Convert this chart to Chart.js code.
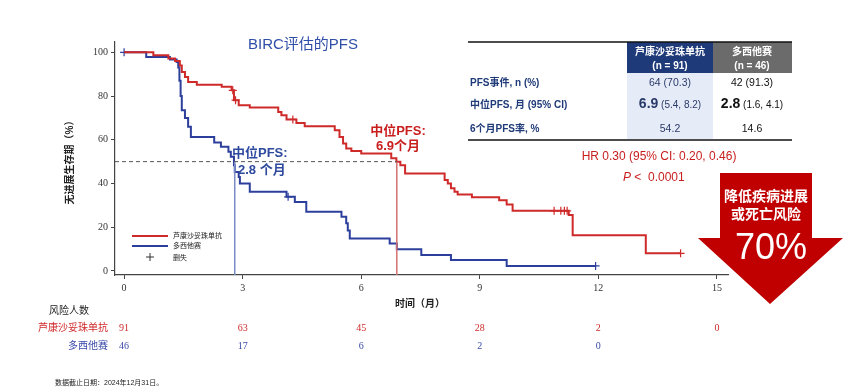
<!DOCTYPE html>
<html lang="zh">
<head>
<meta charset="UTF-8">
<title>BIRC评估的PFS</title>
<script src="https://cdn.jsdelivr.net/npm/chart.js"></script>
<style>
  body { margin: 0; background: #fff; }
  #wrap { position: relative; width: 864px; height: 387px; }
</style>
</head>
<body>
<div id="wrap"><canvas id="km" width="864" height="387"></canvas></div>
<script>
// ---- data ----
const xTicks = [0, 3, 6, 9, 12, 15];
const yTicks = [0, 20, 40, 60, 80, 100];

// 芦康沙妥珠单抗 (red)
const sacTime = [0, 0.74, 1.12, 1.29, 1.41, 1.46, 1.54, 1.62, 1.84, 2.47, 2.72, 2.78, 2.90, 3.18, 3.90, 3.98,
  4.11, 4.36, 4.57, 5.33, 5.45, 5.54, 5.62, 5.75, 6.00, 6.76, 6.89, 6.99, 7.11, 8.11, 8.19, 8.27, 8.36, 8.44,
  8.80, 9.49, 9.68, 9.83, 11.25, 11.35, 13.20, 14.08];
const sacSurv = [100, 98.6, 97.1, 96.0, 94.0, 91.0, 88.7, 86.4, 85.2, 84.2, 82.6, 78.1, 75.8, 74.7, 72.7, 71.2,
  69.3, 67.7, 66.2, 64.4, 61.3, 58.3, 56.0, 54.9, 53.7, 51.5, 49.9, 48.4, 44.6, 41.6, 40.0, 37.8, 36.2, 35.0,
  33.7, 32.4, 30.4, 27.5, 25.6, 16.4, 8.1, 8.1];
const sacCensorTime = [2.75, 2.82, 4.27, 10.88, 11.05, 11.14, 11.21, 14.08];
const sacCensorSurv = [82.6, 78.1, 69.3, 27.5, 27.5, 27.5, 27.5, 8.1];

// 多西他赛 (blue)
const docTime = [0, 0.56, 1.16, 1.33, 1.37, 1.40, 1.43, 1.46, 1.54, 1.62, 1.69, 2.28, 2.45, 2.64, 2.70, 2.78,
  2.80, 2.90, 2.93, 3.18, 4.11, 4.32, 4.61, 5.50, 5.62, 5.66, 5.71, 6.72, 6.90, 7.52, 8.27, 9.68, 11.93];
const docSurv = [100, 97.8, 96.7, 95.6, 93.0, 87.0, 80.0, 73.5, 70.0, 66.0, 61.3, 58.8, 56.8, 54.5, 52.2, 48.4,
  45.3, 43.0, 40.0, 36.2, 33.9, 31.6, 27.1, 24.8, 21.8, 18.5, 14.9, 12.6, 9.9, 7.3, 5.0, 2.3, 2.3];
const docCensorTime = [0, 4.15, 11.93];
const docCensorSurv = [100, 33.9, 2.3];

const medianSac = 6.9;
const medianDoc = 2.8;

const riskSac = [91, 63, 45, 28, 2, 0];
const riskDoc = [46, 17, 6, 2, 0];

const tableLabels = ['PFS事件, n (%)', '中位PFS, 月 (95% CI)', '6个月PFS率, %'];
const tableSac = [['64 (70.3)'], ['6.9', ' (5.4, 8.2)'], ['54.2']];
const tableDoc = [['42 (91.3)'], ['2.8', ' (1.6, 4.1)'], ['14.6']];

const RED = '#cf2a2a';
const BLUE = '#2d3f9c';
const NAVY = '#1f3a78';
const CJK = "'Liberation Sans', 'Noto Sans CJK SC', sans-serif";

const toPts = (xs, ys) => xs.map((x, i) => ({ x: x, y: ys[i] }));

// ---- text, table and arrow drawn over the chart ----
function txt(ctx, s, x, y, font, color, align) {
  ctx.font = font;
  ctx.fillStyle = color;
  ctx.textAlign = align || 'left';
  ctx.textBaseline = 'middle';
  ctx.fillText(s, x, y);
}

function mixed(ctx, parts, cx, y, color) {
  const fonts = ['bold 14px ' + CJK, '10px ' + CJK];
  let w = 0;
  parts.forEach((p, i) => { ctx.font = fonts[i]; w += ctx.measureText(p).width; });
  let x = cx - w / 2;
  parts.forEach((p, i) => {
    ctx.font = fonts[i];
    ctx.fillStyle = color;
    ctx.textAlign = 'left';
    ctx.textBaseline = 'middle';
    ctx.fillText(p, x, y + (i === 0 ? -1 : 0));
    x += ctx.measureText(p).width;
  });
}

const overlay = {
  id: 'overlay',
  afterDraw(chart) {
    const ctx = chart.ctx;
    const xs = chart.scales.x;
    ctx.save();

    // title
    txt(ctx, 'BIRC评估的PFS', 303, 45, '15px ' + CJK, '#2f4ea8', 'center');

    // axis titles
    ctx.save();
    ctx.translate(70, 160);
    ctx.rotate(-Math.PI / 2);
    txt(ctx, '无进展生存期（%）', 0, 0, 'bold 10px ' + CJK, '#222', 'center');
    ctx.restore();
    txt(ctx, '时间（月）', 420, 304, 'bold 10px ' + CJK, '#222', 'center');

    // median labels
    txt(ctx, '中位PFS:', 232, 153, 'bold 13px ' + CJK, '#2e4a9e');
    txt(ctx, '2.8 个月', 238, 170, 'bold 13px ' + CJK, '#2e4a9e');
    txt(ctx, '中位PFS:', 398, 131, 'bold 13px ' + CJK, '#c81e1e', 'center');
    txt(ctx, '6.9个月', 398, 146, 'bold 13px ' + CJK, '#c81e1e', 'center');

    // legend in plot
    ctx.lineWidth = 2;
    ctx.strokeStyle = RED;
    ctx.beginPath(); ctx.moveTo(132, 236); ctx.lineTo(168, 236); ctx.stroke();
    ctx.strokeStyle = BLUE;
    ctx.beginPath(); ctx.moveTo(132, 246); ctx.lineTo(168, 246); ctx.stroke();
    ctx.lineWidth = 1;
    ctx.strokeStyle = '#333';
    ctx.beginPath(); ctx.moveTo(146, 257); ctx.lineTo(154, 257); ctx.moveTo(150, 253); ctx.lineTo(150, 261); ctx.stroke();
    txt(ctx, '芦康沙妥珠单抗', 173, 236, '7px ' + CJK, '#222');
    txt(ctx, '多西他赛', 173, 246, '7px ' + CJK, '#222');
    txt(ctx, '删失', 173, 258, '7px ' + CJK, '#222');

    // table
    ctx.fillStyle = NAVY; ctx.fillRect(627, 42, 86, 31);
    ctx.fillStyle = '#6b6b6b'; ctx.fillRect(713, 42, 79, 31);
    ctx.fillStyle = '#e6ecf7'; ctx.fillRect(627, 73, 86, 66);
    ctx.strokeStyle = '#111';
    ctx.lineWidth = 1.5;
    ctx.beginPath(); ctx.moveTo(468, 42); ctx.lineTo(792, 42); ctx.stroke();
    ctx.beginPath(); ctx.moveTo(468, 140); ctx.lineTo(792, 140); ctx.stroke();
    txt(ctx, '芦康沙妥珠单抗', 670, 52, 'bold 10px ' + CJK, '#fff', 'center');
    txt(ctx, '(n = 91)', 670, 66, 'bold 10px ' + CJK, '#fff', 'center');
    txt(ctx, '多西他赛', 752, 52, 'bold 10px ' + CJK, '#fff', 'center');
    txt(ctx, '(n = 46)', 752, 66, 'bold 10px ' + CJK, '#fff', 'center');
    const rowY = [83, 105, 129];
    tableLabels.forEach((l, i) => {
      txt(ctx, l, 470, rowY[i], 'bold 10px ' + CJK, NAVY);
      if (tableSac[i].length > 1) {
        mixed(ctx, tableSac[i], 670, rowY[i], '#2a3a6a');
        mixed(ctx, tableDoc[i], 752, rowY[i], '#111');
      } else {
        txt(ctx, tableSac[i][0], 670, rowY[i], '10.5px ' + CJK, '#2a3a6a', 'center');
        txt(ctx, tableDoc[i][0], 752, rowY[i], '10.5px ' + CJK, '#111', 'center');
      }
    });

    // HR text
    txt(ctx, 'HR 0.30 (95% CI: 0.20, 0.46)', 659, 157, '12px ' + CJK, '#c81e1e', 'center');
    ctx.font = 'italic 12px ' + CJK;
    const pw = ctx.measureText('P').width;
    txt(ctx, 'P', 623, 178, 'italic 12px ' + CJK, '#c81e1e');
    txt(ctx, ' <  0.0001', 623 + pw, 178, '12px ' + CJK, '#c81e1e');

    // big arrow
    ctx.fillStyle = '#c00000';
    ctx.beginPath();
    ctx.moveTo(720, 173); ctx.lineTo(812, 173); ctx.lineTo(812, 238); ctx.lineTo(843, 238);
    ctx.lineTo(770, 304); ctx.lineTo(698, 238); ctx.lineTo(720, 238); ctx.closePath();
    ctx.fill();
    txt(ctx, '降低疾病进展', 766, 197, 'bold 14px ' + CJK, '#fff', 'center');
    txt(ctx, '或死亡风险', 766, 215, 'bold 14px ' + CJK, '#fff', 'center');
    txt(ctx, '70%', 771, 249, '36px ' + CJK, '#fff', 'center');

    // numbers at risk
    txt(ctx, '风险人数', 69, 311, '10px ' + CJK, '#222', 'center');
    txt(ctx, '芦康沙妥珠单抗', 108, 328, '10px ' + CJK, RED, 'right');
    txt(ctx, '多西他赛', 108, 346, '10px ' + CJK, '#3a4aa8', 'right');
    riskSac.forEach((n, i) => txt(ctx, String(n), xs.getPixelForValue(xTicks[i]), 328, "10px 'Liberation Serif'", RED, 'center'));
    riskDoc.forEach((n, i) => txt(ctx, String(n), xs.getPixelForValue(xTicks[i]), 346, "10px 'Liberation Serif'", '#3a4aa8', 'center'));

    // footnote
    txt(ctx, '数据截止日期：2024年12月31日。', 55, 383, '7px ' + CJK, '#222');
    ctx.restore();
  }
};

const tickFont = { family: "'Liberation Serif', serif", size: 10 };

new Chart(document.getElementById('km').getContext('2d'), {
  type: 'line',
  data: {
    datasets: [
      { data: [{ x: -0.23, y: 50 }, { x: medianSac, y: 50 }], borderColor: '#555', borderWidth: 1, borderDash: [4, 3], pointRadius: 0 },
      { data: [{ x: medianDoc, y: -1.83 }, { x: medianDoc, y: 50 }], borderColor: '#7a8cc8', borderWidth: 1.5, pointRadius: 0 },
      { data: [{ x: medianSac, y: -1.83 }, { x: medianSac, y: 50 }], borderColor: '#d57070', borderWidth: 1.5, pointRadius: 0 },
      { data: toPts(sacTime, sacSurv), borderColor: RED, borderWidth: 2, stepped: 'before', pointRadius: 0 },
      { data: toPts(docTime, docSurv), borderColor: BLUE, borderWidth: 2, stepped: 'before', pointRadius: 0 },
      { data: toPts(sacCensorTime, sacCensorSurv), showLine: false, pointStyle: 'cross', pointRadius: 4, borderColor: RED, borderWidth: 1.2 },
      { data: toPts(docCensorTime, docCensorSurv), showLine: false, pointStyle: 'cross', pointRadius: 4, borderColor: BLUE, borderWidth: 1.2 }
    ]
  },
  options: {
    responsive: false,
    animation: false,
    devicePixelRatio: 1,
    layout: { padding: { left: 0, right: 136, top: 42, bottom: 0 } },
    plugins: { legend: { display: false }, tooltip: { enabled: false } },
    scales: {
      x: {
        type: 'linear', min: -0.23, max: 15.28,
        afterFit: s => { s.height = 112; },
        afterBuildTicks: s => { s.ticks = xTicks.map(v => ({ value: v })); },
        grid: { drawOnChartArea: false, drawTicks: true, tickLength: 4, color: '#444' },
        border: { display: true, color: '#444', width: 1.2 },
        ticks: { font: tickFont, color: '#333', padding: 3, maxRotation: 0 }
      },
      y: {
        type: 'linear', min: -1.83, max: 104.7,
        afterFit: s => { s.width = 115; },
        afterBuildTicks: s => { s.ticks = yTicks.map(v => ({ value: v })); },
        grid: { drawOnChartArea: false, drawTicks: true, tickLength: 4, color: '#444' },
        border: { display: true, color: '#444', width: 1.2 },
        ticks: { font: tickFont, color: '#333', padding: 3 }
      }
    }
  },
  plugins: [overlay]
});
</script>
</body>
</html>
